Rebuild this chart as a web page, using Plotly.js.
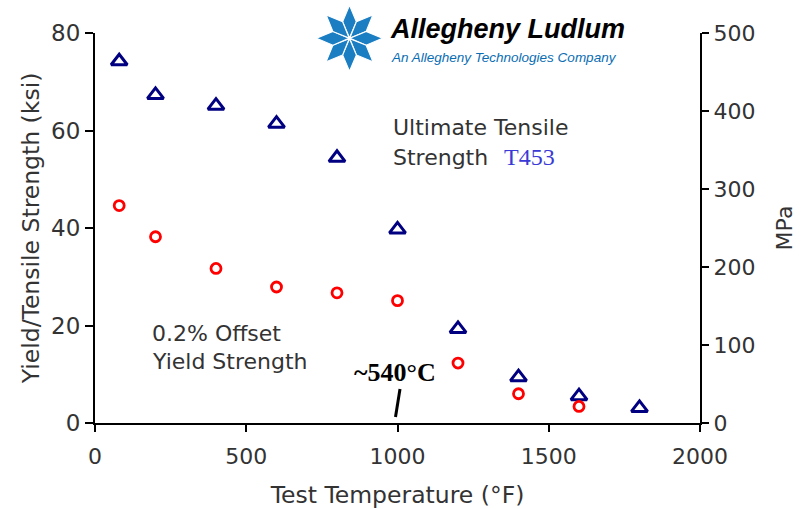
<!DOCTYPE html>
<html>
<head>
<meta charset="utf-8">
<script src="https://cdn.plot.ly/plotly-3.0.1.min.js"></script>
<style>html,body{margin:0;padding:0;background:#fff;}#chart{width:801px;height:509px;}</style>
</head>
<body>
<div id="chart"></div>
<script>
// Data (ksi vs °F)
const tempUTS = [80, 200, 400, 600, 800, 1000, 1200, 1400, 1600, 1800];
const utsKsi = [74.2, 67.3, 65.1, 61.4, 54.4, 39.7, 19.3, 9.4, 5.5, 3.1];
const tempYS = [80, 200, 400, 600, 800, 1000, 1200, 1400, 1600];
const ysKsi = [44.6, 38.2, 31.7, 27.9, 26.7, 25.1, 12.3, 6.0, 3.4];
const xTicks = [0, 500, 1000, 1500, 2000];
const yTicks = [0, 20, 40, 60, 80];
const y2Ticks = [0, 100, 200, 300, 400, 500];

// layout geometry helpers (plot area in px)
const L = 95, R = 700, T = 33, B = 423;
const px = v => (v - L) / (R - L);
const py = v => (B - v) / (B - T);

const traces = [
  {x: tempUTS, y: utsKsi, type: 'scatter', mode: 'markers', hoverinfo: 'skip',
   marker: {symbol: 'triangle-up-open', size: 14, color: '#000080', line: {width: 3, color: '#000080'}}},
  {x: tempYS, y: ysKsi, type: 'scatter', mode: 'markers', hoverinfo: 'skip',
   marker: {symbol: 'circle-open', size: 10, color: '#ff0000', line: {width: 2.8, color: '#ff0000'}}},
  {x: tempYS, y: ysKsi.map(v => v * 6.895), type: 'scatter', mode: 'markers', yaxis: 'y2',
   hoverinfo: 'skip', marker: {opacity: 0}, showlegend: false}
];

// star logo built from 8 rhombi
const shapes = [];
const cx = 349.5, cy = 38.3, Rt = 33, Rs = 18;
for (let k = 0; k < 8; k++) {
  const a = k * Math.PI / 4 - Math.PI / 2;
  const p = (ang, r) => [px(cx + r * Math.cos(ang)), py(cy + r * Math.sin(ang))];
  const c0 = p(a, 0.5), s1 = p(a - Math.PI / 8, Rs), tip = p(a, Rt), s2 = p(a + Math.PI / 8, Rs);
  shapes.push({type: 'path', xref: 'paper', yref: 'paper', layer: 'above',
    path: `M${c0[0]},${c0[1]} L${s1[0]},${s1[1]} L${tip[0]},${tip[1]} L${s2[0]},${s2[1]} Z`,
    fillcolor: '#1b7ec2', line: {color: '#ffffff', width: 1.1}});
}
// ~540°C marker line
shapes.push({type: 'line', xref: 'paper', yref: 'paper',
  x0: px(395.5), y0: py(417), x1: px(400), y1: py(389), line: {color: '#000', width: 3}});

const sans = 'DejaVu Sans, Verdana, sans-serif';
const annotations = [
  {text: 'Allegheny Ludlum', x: px(388), y: py(29), xanchor: 'left', yanchor: 'middle',
   font: {family: 'Liberation Sans, Arial, sans-serif', size: 27, weight: 'bold', style: 'italic', color: '#000'}},
  {text: 'An Allegheny Technologies Company', x: px(389), y: py(57), xanchor: 'left', yanchor: 'middle',
   font: {family: 'Liberation Sans, Arial, sans-serif', size: 13.5, style: 'italic', color: '#0a6db3'}},
  {text: 'Ultimate Tensile', x: px(391), y: py(127), xanchor: 'left', yanchor: 'middle',
   font: {family: sans, size: 22, color: '#333'}},
  {text: 'Strength', x: px(391), y: py(157), xanchor: 'left', yanchor: 'middle',
   font: {family: sans, size: 22, color: '#333'}},
  {text: 'T453', x: px(502), y: py(157), xanchor: 'left', yanchor: 'middle',
   font: {family: 'Liberation Serif, Times New Roman, serif', size: 24, color: '#3a3ad6'}},
  {text: '0.2% Offset', x: px(150), y: py(333), xanchor: 'left', yanchor: 'middle',
   font: {family: sans, size: 22, color: '#333'}},
  {text: 'Yield Strength', x: px(150), y: py(361), xanchor: 'left', yanchor: 'middle',
   font: {family: sans, size: 22, color: '#333'}},
  {text: '~540°C', x: px(395), y: py(372), xanchor: 'center', yanchor: 'middle',
   font: {family: 'Liberation Serif, Times New Roman, serif', size: 26, weight: 'bold', color: '#000'}}
];
annotations.forEach(a => { a.xref = 'paper'; a.yref = 'paper'; a.showarrow = false; });

const layout = {
  width: 801, height: 509,
  margin: {l: L, r: 801 - R, t: T, b: 509 - B, pad: 0},
  paper_bgcolor: '#fff', plot_bgcolor: '#fff',
  showlegend: false,
  xaxis: {range: [0, 2000], tickvals: xTicks, ticktext: xTicks.map(String), showgrid: false, zeroline: false,
    showline: true, linecolor: '#000', linewidth: 2, ticks: 'outside', ticklen: 7, tickwidth: 2, tickcolor: '#000',
    ticklabelstandoff: 6,
    tickfont: {family: sans, size: 22, color: '#333'},
    title: {text: 'Test Temperature (°F)', font: {family: sans, size: 23.5, color: '#333'}, standoff: 22}},
  yaxis: {range: [0, 80], tickvals: yTicks, ticktext: yTicks.map(String), showgrid: false, zeroline: false,
    showline: true, linecolor: '#000', linewidth: 2, ticks: 'outside', ticklen: 8, tickwidth: 2, tickcolor: '#000',
    tickfont: {family: sans, size: 23, color: '#333'},
    title: {text: 'Yield/Tensile Strength (ksi)', font: {family: sans, size: 23.5, color: '#333'}, standoff: 5}},
  yaxis2: {range: [0, 500], overlaying: 'y', side: 'right', tickvals: y2Ticks, ticktext: y2Ticks.map(String),
    showgrid: false, zeroline: false, showline: true, linecolor: '#000', linewidth: 2,
    ticks: 'outside', ticklen: 7, tickwidth: 2, tickcolor: '#000',
    tickfont: {family: sans, size: 22, color: '#333'},
    title: {text: 'MPa', font: {family: sans, size: 22, color: '#333'}, standoff: 22}},
  shapes: shapes,
  annotations: annotations
};

Plotly.newPlot('chart', traces, layout, {displayModeBar: false, staticPlot: true});
</script>
</body>
</html>
